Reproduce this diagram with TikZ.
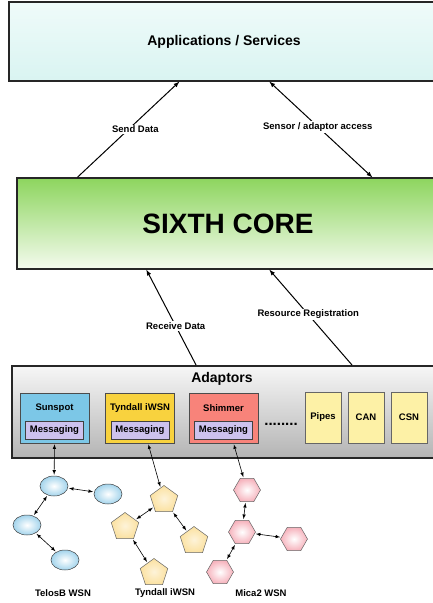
\documentclass[tikz,border=0pt]{standalone}
\usepackage{fontspec}
\setmainfont{Liberation Sans}
\usetikzlibrary{arrows,positioning,shapes.geometric}
\definecolor{appTop}{HTML}{EFFBFA}
\definecolor{appBot}{HTML}{D9F4F1}
\definecolor{coreTop}{HTML}{8DD55E}
\definecolor{coreBot}{HTML}{F4FBEE}
\definecolor{adpTop}{HTML}{F6F6F6}
\definecolor{adpBot}{HTML}{B4B4B4}
\definecolor{sunCol}{HTML}{7CC7E7}
\definecolor{tynCol}{HTML}{F8D23E}
\definecolor{shiCol}{HTML}{F8837A}
\definecolor{msgCol}{HTML}{CDC2EE}
\definecolor{pipCol}{HTML}{FDF1A6}
\definecolor{telCol}{HTML}{A3D4EC}
\definecolor{penCol}{HTML}{FBE1A0}
\definecolor{hexCol}{HTML}{F6B2BC}
\tikzset{font=\bfseries}
\tikzset{every node/.append style={transform shape=false}}
\tikzset{
  layer/.style={draw=black!85, line width=1.3pt, inner sep=0pt},
  lbl/.style={font=\fontsize{9.5}{11}\selectfont\bfseries, fill=white, inner sep=1.5pt},
  adbox/.style={draw=black!70, line width=0.6pt, minimum width=69, minimum height=50, inner sep=0pt},
  msg/.style={draw=black!75, line width=0.6pt, fill=msgCol, minimum width=58, minimum height=18, inner sep=0pt, font=\fontsize{9.5}{11}\selectfont\bfseries},
  small/.style={font=\fontsize{9.5}{11}\selectfont\bfseries},
  extra/.style={draw=black!60, line width=0.6pt, fill=pipCol, minimum width=36, minimum height=51, inner sep=0pt, font=\fontsize{9.5}{11}\selectfont\bfseries},
  telos/.style={ellipse, draw=black!75, line width=0.5pt, inner color=white, outer color=telCol, minimum width=28, minimum height=20, inner sep=0pt},
  penta/.style={regular polygon, regular polygon sides=5, draw=black!60, line width=0.5pt, inner color=white!60!penCol, outer color=penCol, minimum size=29, inner sep=0pt},
  hexa/.style={regular polygon, regular polygon sides=6, draw=black!60, line width=0.5pt, inner color=white, outer color=hexCol, minimum size=27, inner sep=0pt},
  link/.style={latex-latex, line width=0.6pt, shorten <=1pt, shorten >=1pt}
}
\begin{document}
\begin{tikzpicture}[x=1pt,y=-1pt]
\clip (0,0) rectangle (433,603);
\node[layer, top color=appTop, bottom color=appBot, minimum width=430, minimum height=79,
  font=\fontsize{14}{16}\selectfont\bfseries] (app) at (224,41.5) {Applications / Services};
\node[layer, top color=coreTop, bottom color=coreBot, minimum width=422, minimum height=91,
  font=\fontsize{28}{32}\selectfont\bfseries] (core) at (228,223.5) {SIXTH CORE};
\node[layer, line width=1.8pt, top color=adpTop, bottom color=adpBot, minimum width=433, minimum height=92] (adp) at (228.5,412) {};
\node[font=\fontsize{14}{16}\selectfont\bfseries] (adptitle) at (222,379) {Adaptors};

\foreach \x/\name/\txt/\col in {54.5/sunspot/Sunspot/sunCol, 140/tyndall/Tyndall iWSN/tynCol, 223.5/shimmer/Shimmer/shiCol} {
  \node[adbox, fill=\col] (\name) at (\x,418) {};
  \node[small] (\name name) at (\x,408) {\txt};
  \node[msg] (\name msg) at (\x,430) {Messaging};
}
\node[font=\fontsize{15}{16}\selectfont\bfseries] (more) at (281,424) {........};
\node[extra] (pipes) at (323,417.5) {Pipes};
\node[extra] (can) at (366,417.5) {CAN};
\node[extra] (csn) at (409,417.5) {CSN};

\draw[-latex, line width=1pt] ([xshift=61]core.north west) -- node[lbl, pos=0.5, xshift=7] {Send Data} ([xshift=171]app.south west);
\draw[latex-latex, line width=1pt] ([xshift=261]app.south west) -- node[lbl, pos=0.47] {Sensor / adaptor access} ([xshift=356]core.north west);
\draw[-latex, line width=1pt] ([xshift=185]adp.north west) -- node[lbl, pos=0.41] {Receive Data} ([xshift=130]core.south west);
\draw[-latex, line width=1pt] ([xshift=341]adp.north west) -- node[lbl, pos=0.53] {Resource Registration} ([xshift=253]core.south west);

\node[telos] (t1) at (54,486) {};
\node[telos] (t2) at (108,494) {};
\node[telos] (t3) at (27,525) {};
\node[telos] (t4) at (65,560) {};
\node[penta] (p1) at (164,500) {};
\node[penta] (p2) at (125,527) {};
\node[penta] (p3) at (194,541) {};
\node[penta] (p4) at (154,573) {};
\node[hexa] (h1) at (247,490) {};
\node[hexa] (h2) at (242,532) {};
\node[hexa] (h3) at (294,539) {};
\node[hexa] (h4) at (220,572) {};

\foreach \a/\b in {t1/t2, t1/t3, t3/t4, p1/p2, p1/p3, p2/p4, h1/h2, h2/h3, h2/h4}
  \draw[link] (\a) -- (\b);
\draw[link] (sunspot.south) -- (t1);
\draw[link] ([xshift=8]tyndall.south) -- (p1);
\draw[link] ([xshift=10]shimmer.south) -- (h1);

\node[small] (telosname) at (63,593) {TelosB WSN};
\node[small] (tynname) at (165,593) {Tyndall iWSN};
\node[small] (micaname) at (261,593) {Mica2 WSN};
\end{tikzpicture}
\end{document}
